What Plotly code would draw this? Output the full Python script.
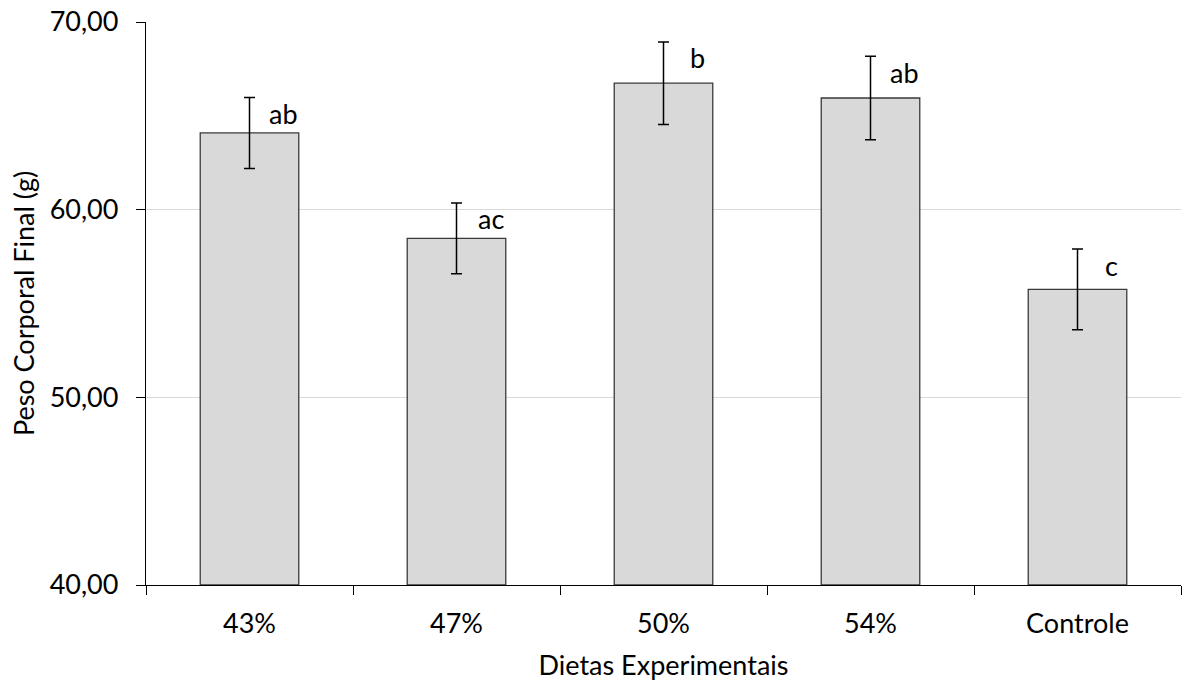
import plotly.graph_objects as go

categories = ["43%", "47%", "50%", "54%", "Controle"]
values = [64.09, 58.47, 66.74, 65.95, 55.75]
errors = [1.89, 1.89, 2.20, 2.23, 2.15]
letters = ["ab", "ac", "b", "ab", "c"]
ytick_vals = [40, 50, 60, 70]
ytick_text = ["40,00", "50,00", "60,00", "70,00"]

FONT = "Lato"
FS = 27

fig = go.Figure()
fig.add_trace(go.Bar(
    x=categories, y=[v - 40 for v in values], base=40,
    marker=dict(color="#d9d9d9", line=dict(color="#3a3a3a", width=1.3)),
    width=0.476,
    error_y=dict(type="data", array=errors, visible=True,
                 color="#000000", thickness=1.5, width=5.5),
    showlegend=False,
))

for c, v, e, t in zip(categories, values, errors, letters):
    fig.add_annotation(x=c, y=v + e, text=t, showarrow=False,
                       xshift=34, yshift=-16,
                       font=dict(family=FONT, size=FS, color="#000000"))

fig.update_layout(
    width=1182, height=684,
    margin=dict(l=146, r=1, t=22, b=99, autoexpand=False),
    paper_bgcolor="white", plot_bgcolor="white",
    font=dict(family=FONT, size=FS, color="#000000"),
)
fig.update_xaxes(
    type="category", tickson="boundaries", ticks="outside", ticklen=9,
    tickcolor="#000000", tickwidth=1.3,
    showline=True, linecolor="#000000", linewidth=1.3,
    showgrid=False, automargin=False,
    ticklabelstandoff=14,
    title=dict(text="Dietas Experimentais", standoff=18,
               font=dict(family=FONT, size=FS)),
    tickfont=dict(family=FONT, size=FS),
)
fig.update_yaxes(
    range=[40, 70], tickvals=ytick_vals, ticktext=ytick_text,
    ticks="outside", ticklen=9, tickcolor="#000000", tickwidth=1.3,
    showline=True, linecolor="#000000", linewidth=1.3,
    showgrid=True, gridcolor="#d9d9d9", gridwidth=1,
    zeroline=False, automargin=False,
    ticklabelstandoff=12,
    title=dict(text="Peso Corporal Final (g)", standoff=7,
               font=dict(family=FONT, size=FS)),
    tickfont=dict(family=FONT, size=FS),
)

fig.write_html("out.html", config={"displayModeBar": False},
               post_script="document.body.style.margin='0';document.body.style.overflow='hidden';")
